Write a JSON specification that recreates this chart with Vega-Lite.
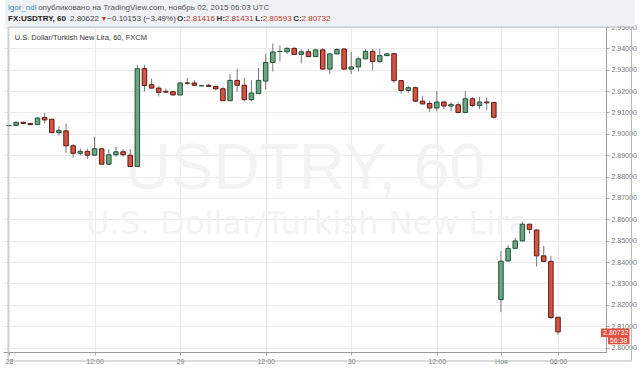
{
  "$schema": "https://vega.github.io/schema/vega-lite/v6.json",
  "width": 603,
  "height": 325,
  "autosize": {"type": "none"},
  "padding": {"left": 3, "top": 27, "right": 34, "bottom": 17},
  "background": "white",
  "config": {
    "view": {"stroke": null},
    "font": "Liberation Sans",
    "text": {"font": "Liberation Sans", "baseline": "middle", "align": "left", "clip": false}
  },
  "datasets": {
    "one": [{}],
    "candles": [
      {"k": 0, "o": 2.9038, "h": 2.9040, "l": 2.9036, "c": 2.9039},
      {"k": 1, "o": 2.9040, "h": 2.9058, "l": 2.9037, "c": 2.9054},
      {"k": 2, "o": 2.9054, "h": 2.9057, "l": 2.9046, "c": 2.9048},
      {"k": 3, "o": 2.9048, "h": 2.9050, "l": 2.9041, "c": 2.9043},
      {"k": 4, "o": 2.9043, "h": 2.9078, "l": 2.9041, "c": 2.9074},
      {"k": 5, "o": 2.9076, "h": 2.9098, "l": 2.9048, "c": 2.9065},
      {"k": 6, "o": 2.9068, "h": 2.9070, "l": 2.9004, "c": 2.9006},
      {"k": 7, "o": 2.9006, "h": 2.9035, "l": 2.8992, "c": 2.9016},
      {"k": 8, "o": 2.9014, "h": 2.9048, "l": 2.8911, "c": 2.8944},
      {"k": 9, "o": 2.8944, "h": 2.8953, "l": 2.8888, "c": 2.8909},
      {"k": 10, "o": 2.8909, "h": 2.8932, "l": 2.8898, "c": 2.8918},
      {"k": 11, "o": 2.8918, "h": 2.8931, "l": 2.8883, "c": 2.8900},
      {"k": 12, "o": 2.8900, "h": 2.8986, "l": 2.8898, "c": 2.8930},
      {"k": 13, "o": 2.8930, "h": 2.8933, "l": 2.8855, "c": 2.8858},
      {"k": 14, "o": 2.8858, "h": 2.8927, "l": 2.8854, "c": 2.8902},
      {"k": 15, "o": 2.8902, "h": 2.8939, "l": 2.8893, "c": 2.8916},
      {"k": 16, "o": 2.8916, "h": 2.8927, "l": 2.8893, "c": 2.8902},
      {"k": 17, "o": 2.8900, "h": 2.8927, "l": 2.8846, "c": 2.8847},
      {"k": 18, "o": 2.8847, "h": 2.9323, "l": 2.8845, "c": 2.9305},
      {"k": 19, "o": 2.9305, "h": 2.9323, "l": 2.9199, "c": 2.9226},
      {"k": 20, "o": 2.9230, "h": 2.9258, "l": 2.9212, "c": 2.9214},
      {"k": 21, "o": 2.9214, "h": 2.9225, "l": 2.9175, "c": 2.9194},
      {"k": 22, "o": 2.9199, "h": 2.9212, "l": 2.9192, "c": 2.9195},
      {"k": 23, "o": 2.9197, "h": 2.9201, "l": 2.9180, "c": 2.9182},
      {"k": 24, "o": 2.9182, "h": 2.9243, "l": 2.9180, "c": 2.9238},
      {"k": 25, "o": 2.9238, "h": 2.9261, "l": 2.9230, "c": 2.9237},
      {"k": 26, "o": 2.9238, "h": 2.9252, "l": 2.9225, "c": 2.9227},
      {"k": 27, "o": 2.9225, "h": 2.9227, "l": 2.9223, "c": 2.9225},
      {"k": 28, "o": 2.9227, "h": 2.9235, "l": 2.9220, "c": 2.9222},
      {"k": 29, "o": 2.9222, "h": 2.9225, "l": 2.9204, "c": 2.9211},
      {"k": 30, "o": 2.9211, "h": 2.9219, "l": 2.9153, "c": 2.9155},
      {"k": 31, "o": 2.9155, "h": 2.9280, "l": 2.9153, "c": 2.9250},
      {"k": 32, "o": 2.9250, "h": 2.9305, "l": 2.9196, "c": 2.9227},
      {"k": 33, "o": 2.9227, "h": 2.9261, "l": 2.9152, "c": 2.9160},
      {"k": 34, "o": 2.9160, "h": 2.9250, "l": 2.9152, "c": 2.9191},
      {"k": 35, "o": 2.9188, "h": 2.9308, "l": 2.9186, "c": 2.9250},
      {"k": 36, "o": 2.9247, "h": 2.9375, "l": 2.9208, "c": 2.9334},
      {"k": 37, "o": 2.9334, "h": 2.9423, "l": 2.9292, "c": 2.9383},
      {"k": 38, "o": 2.9385, "h": 2.9414, "l": 2.9339, "c": 2.9386},
      {"k": 39, "o": 2.9384, "h": 2.9405, "l": 2.9374, "c": 2.9400},
      {"k": 40, "o": 2.9400, "h": 2.9405, "l": 2.9370, "c": 2.9372},
      {"k": 41, "o": 2.9372, "h": 2.9395, "l": 2.9330, "c": 2.9384},
      {"k": 42, "o": 2.9384, "h": 2.9398, "l": 2.9360, "c": 2.9362},
      {"k": 43, "o": 2.9362, "h": 2.9398, "l": 2.9360, "c": 2.9393},
      {"k": 44, "o": 2.9393, "h": 2.9402, "l": 2.9301, "c": 2.9303},
      {"k": 45, "o": 2.9303, "h": 2.9380, "l": 2.9280, "c": 2.9374},
      {"k": 46, "o": 2.9374, "h": 2.9400, "l": 2.9372, "c": 2.9395},
      {"k": 47, "o": 2.9397, "h": 2.9400, "l": 2.9301, "c": 2.9303},
      {"k": 48, "o": 2.9303, "h": 2.9384, "l": 2.9280, "c": 2.9313},
      {"k": 49, "o": 2.9313, "h": 2.9362, "l": 2.9292, "c": 2.9351},
      {"k": 50, "o": 2.9351, "h": 2.9395, "l": 2.9349, "c": 2.9386},
      {"k": 51, "o": 2.9386, "h": 2.9398, "l": 2.9297, "c": 2.9339},
      {"k": 52, "o": 2.9339, "h": 2.9398, "l": 2.9330, "c": 2.9366},
      {"k": 53, "o": 2.9366, "h": 2.9380, "l": 2.9364, "c": 2.9374},
      {"k": 54, "o": 2.9375, "h": 2.9380, "l": 2.9238, "c": 2.9249},
      {"k": 55, "o": 2.9249, "h": 2.9252, "l": 2.9188, "c": 2.9203},
      {"k": 56, "o": 2.9203, "h": 2.9225, "l": 2.9192, "c": 2.9216},
      {"k": 57, "o": 2.9216, "h": 2.9220, "l": 2.9149, "c": 2.9153},
      {"k": 58, "o": 2.9153, "h": 2.9178, "l": 2.9138, "c": 2.9140},
      {"k": 59, "o": 2.9142, "h": 2.9155, "l": 2.9102, "c": 2.9121},
      {"k": 60, "o": 2.9121, "h": 2.9200, "l": 2.9105, "c": 2.9149},
      {"k": 61, "o": 2.9149, "h": 2.9156, "l": 2.9116, "c": 2.9130},
      {"k": 62, "o": 2.9130, "h": 2.9147, "l": 2.9105, "c": 2.9138},
      {"k": 63, "o": 2.9136, "h": 2.9147, "l": 2.9097, "c": 2.9100},
      {"k": 64, "o": 2.9100, "h": 2.9200, "l": 2.9097, "c": 2.9164},
      {"k": 65, "o": 2.9164, "h": 2.9172, "l": 2.9125, "c": 2.9133},
      {"k": 66, "o": 2.9133, "h": 2.9172, "l": 2.9116, "c": 2.9149},
      {"k": 67, "o": 2.9149, "h": 2.9170, "l": 2.9112, "c": 2.9145},
      {"k": 68, "o": 2.9147, "h": 2.9150, "l": 2.9073, "c": 2.90775},
      {"k": 69, "o": 2.8224, "h": 2.8452, "l": 2.8165, "c": 2.8404},
      {"k": 70, "o": 2.8405, "h": 2.8479, "l": 2.8403, "c": 2.8464},
      {"k": 71, "o": 2.8464, "h": 2.8514, "l": 2.8462, "c": 2.8499},
      {"k": 72, "o": 2.8499, "h": 2.8588, "l": 2.8497, "c": 2.8577},
      {"k": 73, "o": 2.8577, "h": 2.8580, "l": 2.8533, "c": 2.8553},
      {"k": 74, "o": 2.8550, "h": 2.8553, "l": 2.8379, "c": 2.8429},
      {"k": 75, "o": 2.8429, "h": 2.8475, "l": 2.8400, "c": 2.8403},
      {"k": 76, "o": 2.8403, "h": 2.8429, "l": 2.8133, "c": 2.8140},
      {"k": 77, "o": 2.81416, "h": 2.81431, "l": 2.80593, "c": 2.80732}
    ]
  },
  "layer": [
    {
      "data": {"name": "one"},
      "mark": {"type": "rect", "clip": false, "fill": "#eff2f5"},
      "encoding": {
        "x": {"datum": -0.56, "type": "quantitative", "title": null},
        "x2": {"datum": 87.8},
        "y": {"datum": 2.9502, "type": "quantitative", "title": null},
        "y2": {"datum": 2.9630}
      }
    },
    {
      "data": {"name": "one"},
      "mark": {"type": "text", "fontSize": 8, "color": "#2f8ccc"},
      "encoding": {
        "x": {"datum": -0.14, "type": "quantitative", "title": null},
        "y": {"datum": 2.95889, "type": "quantitative", "title": null},
        "text": {"value": "igor_ndl"}
      }
    },
    {
      "data": {"name": "one"},
      "mark": {"type": "text", "fontSize": 8, "color": "#555555"},
      "encoding": {
        "x": {"datum": 4.09, "type": "quantitative", "title": null},
        "y": {"datum": 2.95889, "type": "quantitative", "title": null},
        "text": {"value": "опубликовано на TradingView.com, ноябрь 02, 2015 06:03 UTC"}
      }
    },
    {
      "data": {"name": "one"},
      "mark": {"type": "text", "fontSize": 8, "fontWeight": "bold", "color": "#222222"},
      "encoding": {
        "x": {"datum": -0.14, "type": "quantitative", "title": null},
        "y": {"datum": 2.95374, "type": "quantitative", "title": null},
        "text": {"value": "FX:USDTRY, 60"}
      }
    },
    {
      "data": {"name": "one"},
      "mark": {"type": "text", "fontSize": 8, "color": "#444444"},
      "encoding": {
        "x": {"datum": 8.55, "type": "quantitative", "title": null},
        "y": {"datum": 2.95374, "type": "quantitative", "title": null},
        "text": {"value": "2.80622"}
      }
    },
    {
      "data": {"name": "one"},
      "mark": {"type": "text", "fontSize": 7, "color": "#d7342a"},
      "encoding": {
        "x": {"datum": 12.83, "type": "quantitative", "title": null},
        "y": {"datum": 2.95374, "type": "quantitative", "title": null},
        "text": {"value": "▼"}
      }
    },
    {
      "data": {"name": "one"},
      "mark": {"type": "text", "fontSize": 8, "color": "#444444"},
      "encoding": {
        "x": {"datum": 13.79, "type": "quantitative", "title": null},
        "y": {"datum": 2.95374, "type": "quantitative", "title": null},
        "text": {"value": "−0.10153 (−3.49%)"}
      }
    },
    {
      "data": {"name": "one"},
      "mark": {"type": "text", "fontSize": 8, "fontWeight": "bold", "color": "#333333"},
      "encoding": {
        "x": {"datum": 23.58, "type": "quantitative", "title": null},
        "y": {"datum": 2.95374, "type": "quantitative", "title": null},
        "text": {"value": "O:"}
      }
    },
    {
      "data": {"name": "one"},
      "mark": {"type": "text", "fontSize": 8, "color": "#c0392b"},
      "encoding": {
        "x": {"datum": 24.83, "type": "quantitative", "title": null},
        "y": {"datum": 2.95374, "type": "quantitative", "title": null},
        "text": {"value": "2.81416"}
      }
    },
    {
      "data": {"name": "one"},
      "mark": {"type": "text", "fontSize": 8, "fontWeight": "bold", "color": "#333333"},
      "encoding": {
        "x": {"datum": 29.1, "type": "quantitative", "title": null},
        "y": {"datum": 2.95374, "type": "quantitative", "title": null},
        "text": {"value": "H:"}
      }
    },
    {
      "data": {"name": "one"},
      "mark": {"type": "text", "fontSize": 8, "color": "#c0392b"},
      "encoding": {
        "x": {"datum": 30.26, "type": "quantitative", "title": null},
        "y": {"datum": 2.95374, "type": "quantitative", "title": null},
        "text": {"value": "2.81431"}
      }
    },
    {
      "data": {"name": "one"},
      "mark": {"type": "text", "fontSize": 8, "fontWeight": "bold", "color": "#333333"},
      "encoding": {
        "x": {"datum": 34.55, "type": "quantitative", "title": null},
        "y": {"datum": 2.95374, "type": "quantitative", "title": null},
        "text": {"value": "L:"}
      }
    },
    {
      "data": {"name": "one"},
      "mark": {"type": "text", "fontSize": 8, "color": "#c0392b"},
      "encoding": {
        "x": {"datum": 35.58, "type": "quantitative", "title": null},
        "y": {"datum": 2.95374, "type": "quantitative", "title": null},
        "text": {"value": "2.80593"}
      }
    },
    {
      "data": {"name": "one"},
      "mark": {"type": "text", "fontSize": 8, "fontWeight": "bold", "color": "#333333"},
      "encoding": {
        "x": {"datum": 39.86, "type": "quantitative", "title": null},
        "y": {"datum": 2.95374, "type": "quantitative", "title": null},
        "text": {"value": "C:"}
      }
    },
    {
      "data": {"name": "one"},
      "mark": {"type": "text", "fontSize": 8, "color": "#c0392b"},
      "encoding": {
        "x": {"datum": 41.03, "type": "quantitative", "title": null},
        "y": {"datum": 2.95374, "type": "quantitative", "title": null},
        "text": {"value": "2.80732"}
      }
    },
    {
      "data": {"name": "one"},
      "mark": {"type": "text", "fontSize": 64, "color": "#f3f3f3", "align": "center"},
      "encoding": {
        "x": {"datum": 41.5, "type": "quantitative", "title": null},
        "y": {"datum": 2.8833, "type": "quantitative", "title": null},
        "text": {"value": "USDTRY, 60"}
      }
    },
    {
      "data": {"name": "one"},
      "mark": {"type": "text", "font": "DejaVu Sans", "fontSize": 32, "color": "#f3f3f3", "align": "center"},
      "encoding": {
        "x": {"datum": 41.8, "type": "quantitative", "title": null},
        "y": {"datum": 2.8578, "type": "quantitative", "title": null},
        "text": {"value": "U.S. Dollar/Turkish New Lira"}
      }
    },
    {
      "data": {"name": "one"},
      "mark": {"type": "text", "fontSize": 7.5, "color": "#333333"},
      "encoding": {
        "x": {"datum": 0.8, "type": "quantitative", "title": null},
        "y": {"datum": 2.9448, "type": "quantitative", "title": null},
        "text": {"value": "U.S. Dollar/Turkish New Lira, 60, FXCM"}
      }
    },
    {
      "data": {"name": "candles"},
      "mark": {"type": "rule", "color": "#777777", "strokeWidth": 1},
      "encoding": {
        "x": {
          "field": "k",
          "type": "quantitative",
          "title": null,
          "scale": {"domain": [-0.14, 83.03], "zero": false, "nice": false},
          "axis": {
            "orient": "bottom",
            "values": [0, 12, 24, 36, 48, 60, 69, 77],
            "labelExpr": "datum.value == 0 ? '28' : datum.value == 24 ? '29' : datum.value == 48 ? '30' : datum.value == 69 ? 'Ноя' : datum.value == 77 ? '06:00' : '12:00'",
            "labelFlush": false,
            "labelOverlap": false,
            "labelFontSize": 7,
            "labelColor": "#777777",
            "labelPadding": 2,
            "tickSize": 3,
            "tickColor": "#aaaaaa",
            "domainColor": "#9a9a9a",
            "grid": true,
            "gridColor": "#ebebeb",
            "title": null
          }
        },
        "y": {
          "field": "l",
          "type": "quantitative",
          "title": null,
          "scale": {"domain": [2.7979, 2.95], "zero": false, "nice": false},
          "axis": {
            "orient": "right",
            "values": [2.80, 2.81, 2.82, 2.83, 2.84, 2.85, 2.86, 2.87, 2.88, 2.89, 2.90, 2.91, 2.92, 2.93, 2.94, 2.95],
            "tickCount": 16,
            "format": ".5f",
            "labelOverlap": false,
            "labelFlush": false,
            "labelFontSize": 7,
            "labelColor": "#777777",
            "labelPadding": 2,
            "tickSize": 3,
            "tickColor": "#aaaaaa",
            "domainColor": "#9a9a9a",
            "grid": true,
            "gridColor": "#ebebeb",
            "title": null
          }
        },
        "y2": {"field": "h"}
      }
    },
    {
      "data": {"name": "candles"},
      "mark": {"type": "bar", "orient": "vertical", "width": 4.5, "strokeWidth": 1},
      "encoding": {
        "x": {"field": "k", "type": "quantitative", "title": null},
        "y": {"field": "o", "type": "quantitative", "title": null},
        "y2": {"field": "c"},
        "fill": {"condition": {"test": "datum.c >= datum.o", "value": "#6ba583"}, "value": "#d75442"},
        "stroke": {"condition": {"test": "datum.c >= datum.o", "value": "#225437"}, "value": "#5b1a13"}
      }
    },
    {
      "data": {"name": "one"},
      "mark": {"type": "rect", "clip": false, "fill": null, "stroke": "#b4b8bc", "strokeWidth": 1},
      "encoding": {
        "x": {"datum": -0.12, "type": "quantitative", "title": null},
        "x2": {"datum": 87.3},
        "y": {"datum": 2.9500, "type": "quantitative", "title": null},
        "y2": {"datum": 2.7937}
      }
    },
    {
      "data": {"name": "one"},
      "mark": {"type": "rect", "clip": false, "fill": "#e0503f"},
      "encoding": {
        "x": {"datum": 83.03, "type": "quantitative", "title": null},
        "x2": {"datum": 87.03},
        "y": {"datum": 2.8089, "type": "quantitative", "title": null},
        "y2": {"datum": 2.8049}
      }
    },
    {
      "data": {"name": "one"},
      "mark": {"type": "rect", "clip": false, "fill": "#e0503f"},
      "encoding": {
        "x": {"datum": 84.0, "type": "quantitative", "title": null},
        "x2": {"datum": 87.03},
        "y": {"datum": 2.8049, "type": "quantitative", "title": null},
        "y2": {"datum": 2.8015}
      }
    },
    {
      "data": {"name": "one"},
      "mark": {"type": "text", "fontSize": 7, "color": "white", "align": "center"},
      "encoding": {
        "x": {"datum": 85.1, "type": "quantitative", "title": null},
        "y": {"datum": 2.8068, "type": "quantitative", "title": null},
        "text": {"value": "2.80732"}
      }
    },
    {
      "data": {"name": "one"},
      "mark": {"type": "text", "fontSize": 7, "color": "white", "align": "center"},
      "encoding": {
        "x": {"datum": 85.5, "type": "quantitative", "title": null},
        "y": {"datum": 2.8032, "type": "quantitative", "title": null},
        "text": {"value": "56:38"}
      }
    }
  ]
}
